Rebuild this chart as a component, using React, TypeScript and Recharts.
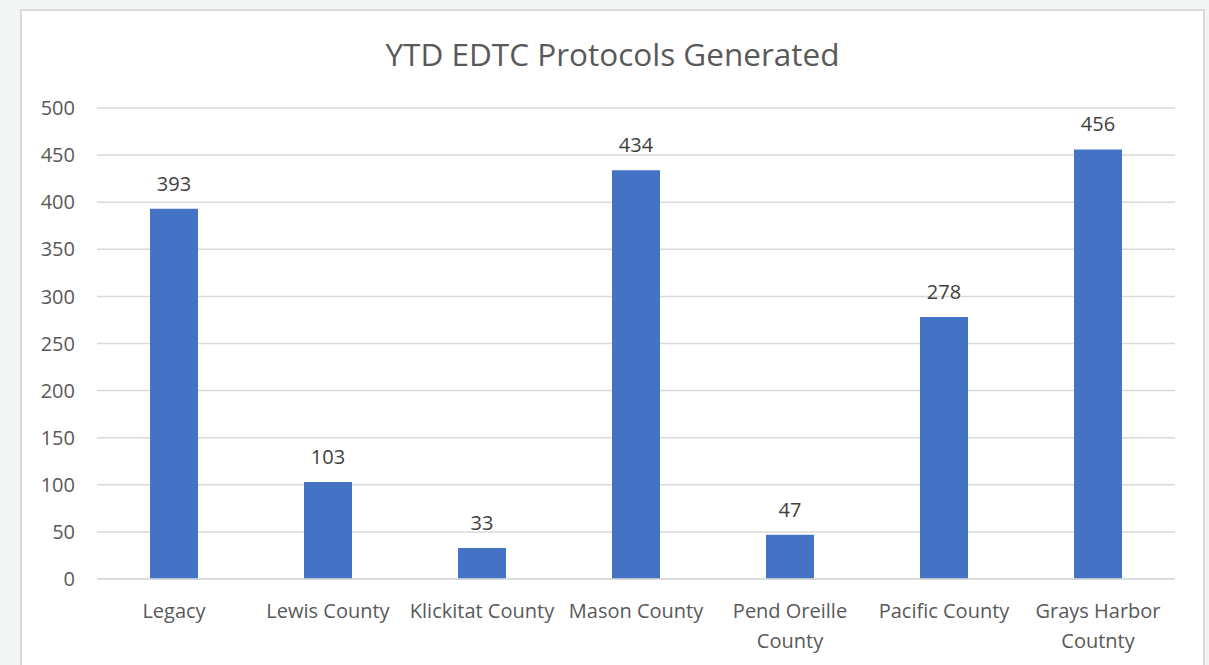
import React from 'react';
import { BarChart, Bar, XAxis, YAxis, CartesianGrid, LabelList } from 'recharts';

const categories = [
  'Legacy',
  'Lewis County',
  'Klickitat County',
  'Mason County',
  'Pend Oreille County',
  'Pacific County',
  'Grays Harbor Coutnty',
];
const protocols = [393, 103, 33, 434, 47, 278, 456];
const yTicks = [0, 50, 100, 150, 200, 250, 300, 350, 400, 450, 500];

const data = categories.map((name, i) => ({ name, value: protocols[i] }));

const FONT = '"Open Sans", "Noto Sans", sans-serif';

// long names wrap onto two lines, like the original
const wrapLabel = (label: string): string[] => {
  if (label.length <= 16) return [label];
  const cut = label.lastIndexOf(' ');
  return [label.slice(0, cut), label.slice(cut + 1)];
};

const CategoryTick = (props: any) => {
  const { x, y, payload } = props;
  const lines = wrapLabel(String(payload.value));
  return (
    <text
      x={x}
      y={y}
      textAnchor="middle"
      fontSize={20}
      fontFamily={FONT}
      fill="#595959"
    >
      {lines.map((line, i) => (
        <tspan key={i} x={x} dy={i === 0 ? 20 : 30}>
          {line}
        </tspan>
      ))}
    </text>
  );
};

const App: React.FC = () => {
  return (
    <div
      style={{
        position: 'absolute',
        left: 0,
        top: 0,
        width: 1209,
        height: 665,
        background: '#f3f4f4',
        overflow: 'hidden',
      }}
    >
      <div
        style={{
          position: 'absolute',
          left: 20,
          top: 9,
          width: 1181,
          height: 680,
          background: '#ffffff',
          border: '2px solid #d9d9d9',
        }}
      >
        <div
          style={{
            position: 'absolute',
            left: 0,
            width: 1181,
            top: 23,
            textAlign: 'center',
            fontFamily: FONT,
            fontSize: 31.5,
            color: '#595959',
            lineHeight: '40px',
          }}
        >
          YTD EDTC Protocols Generated
        </div>
        <BarChart
          width={1181}
          height={654}
          data={data}
          margin={{ top: 97, right: 28, bottom: 0, left: 0 }}
        >
          <CartesianGrid vertical={false} stroke="#d9d9d9" strokeWidth={1.5} />
          <XAxis
            dataKey="name"
            axisLine={{ stroke: '#d9d9d9', strokeWidth: 1.5 }}
            tickLine={false}
            tick={<CategoryTick />}
            tickSize={0}
            tickMargin={19}
            height={86}
            interval={0}
          />
          <YAxis
            domain={[0, 500]}
            ticks={yTicks}
            axisLine={false}
            tickLine={false}
            tickSize={0}
            tickMargin={22}
            width={75}
            tick={{ fontSize: 20, fontFamily: FONT, fill: '#595959' }}
          />
          <Bar dataKey="value" fill="#4472C4" barSize={48} isAnimationActive={false}>
            <LabelList
              dataKey="value"
              position="top"
              offset={18}
              fontSize={20}
              fontFamily={FONT}
              fill="#404040"
            />
          </Bar>
        </BarChart>
      </div>
    </div>
  );
};

export default App;
